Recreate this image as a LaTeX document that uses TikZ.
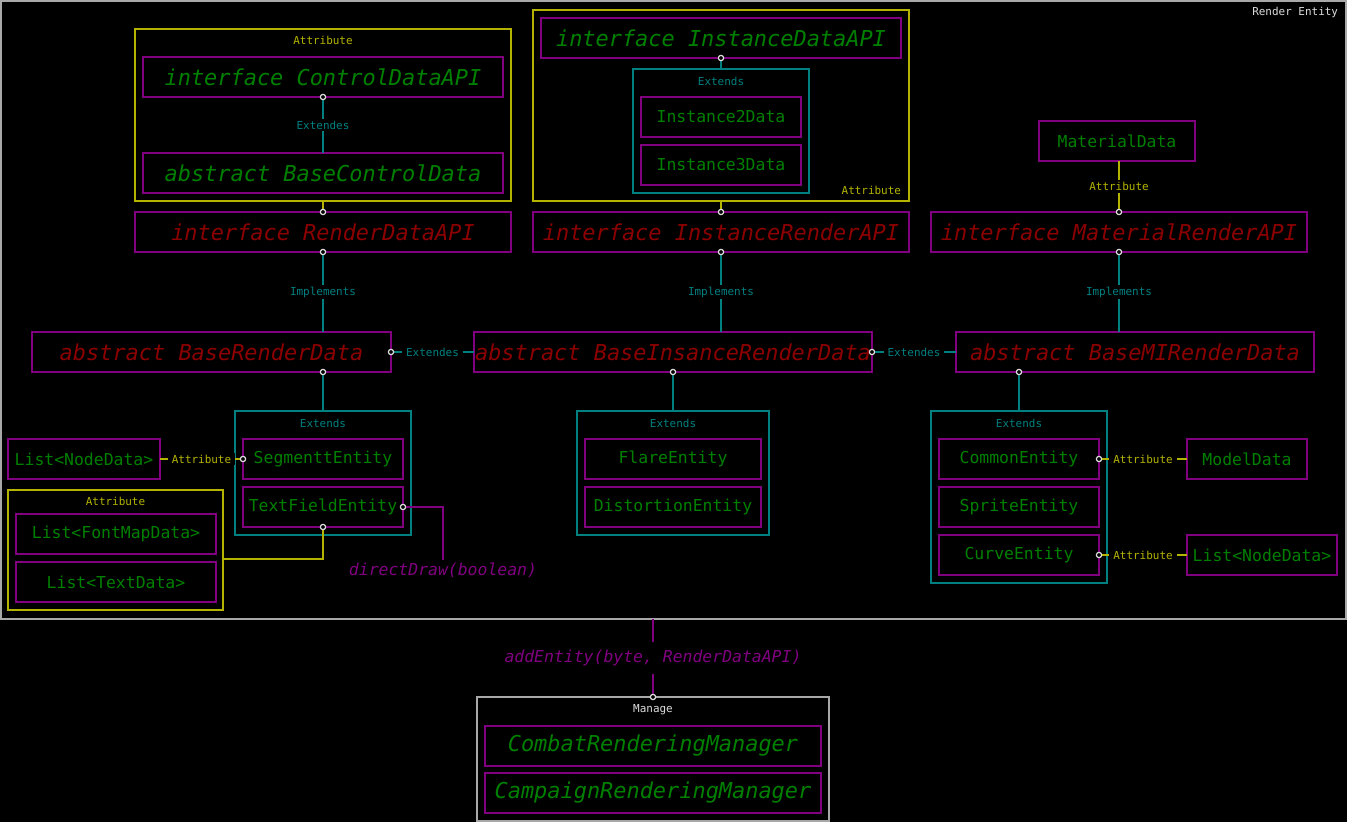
\documentclass[tikz,border=0pt]{standalone}
\usepackage{fontspec}
\setmonofont{DejaVu Sans Mono}
\usetikzlibrary{arrows.meta, positioning}

\definecolor{boxpurple}{HTML}{800080}
\definecolor{txtgreen}{HTML}{008000}
\definecolor{txtred}{HTML}{8B0000}
\definecolor{linkteal}{HTML}{008080}
\definecolor{linkyellow}{HTML}{B4B400}
\definecolor{framegray}{HTML}{A8A8A8}
\definecolor{portgray}{HTML}{DDDDDD}

\begin{document}
\begin{tikzpicture}[x=1bp, y=-1bp,
        every node/.style={inner sep=0pt, outer sep=0pt},
        cls/.style={rectangle, draw=boxpurple, line width=1.5pt, minimum height=40bp, text=txtgreen, font=\ttfamily\fontsize{16.5}{18}\selectfont},
        apibox/.style={cls, font=\ttfamily\itshape\fontsize{22}{24}\selectfont},
        corebox/.style={apibox, text=txtred},
        grpbox/.style={rectangle, line width=1.5pt, draw},
        attrgrp/.style={grpbox, draw=linkyellow},
        extgrp/.style={grpbox, draw=linkteal},
        lbl/.style={font=\ttfamily\fontsize{11}{13}\selectfont, inner xsep=4pt, inner ysep=2pt},
        linklbl/.style={lbl, midway, fill=black},
        method/.style={font=\ttfamily\itshape\fontsize{16.5}{18}\selectfont, text=boxpurple, inner sep=3pt},
        link/.style={line width=1.8pt},
        teallink/.style={link, draw=linkteal},
        yellowlink/.style={link, draw=linkyellow},
        purplelink/.style={link, draw=boxpurple},
        dot start/.style={{Circle[length=6.5pt, fill=black, color=portgray, line width=1.2pt]}-, shorten <=-3.25pt},
        dot end/.style={-{Circle[length=6.5pt, fill=black, color=portgray, line width=1.2pt]}, shorten >=-3.25pt}
    ]
    \fill[black] (0,0) rectangle (1347,822);
    \useasboundingbox (0,0) rectangle (1347,822);

    % --- 1. outer frame ---
    \node[grpbox, draw=framegray, minimum width=1345bp, minimum height=618bp] (frame) at (673.5,310) {};
    \node[lbl, text=portgray, below left=4pt and 4pt of frame.north east] (framelbl) {Render Entity};

    % --- 2. left column ---
    \node[attrgrp, minimum width=376bp, minimum height=172bp] (attrA) at (323,115) {};
    \node[lbl, text=linkyellow, below=5pt of attrA.north] (attrAlbl) {Attribute};
    \node[apibox, minimum width=360bp] (cda) at (323,77) {interface ControlDataAPI};
    \node[apibox, minimum width=360bp] (bcd) at (323,173) {abstract BaseControlData};
    \node[corebox, minimum width=376bp] (rda) at (323,232) {interface RenderDataAPI};
    \node[corebox, minimum width=359bp] (brd) at (211.5,352) {abstract BaseRenderData};

    \node[extgrp, minimum width=176bp, minimum height=124bp] (extA) at (323,473) {};
    \node[lbl, text=linkteal, below=6pt of extA.north] (extAlbl) {Extends};
    \node[cls, minimum width=160bp] (seg) at (323,459) {SegmenttEntity};
    \node[cls, minimum width=160bp] (tfe) at (323,507) {TextFieldEntity};
    \node[cls, minimum width=152bp] (lnd) at (84,459) {List<NodeData>};

    \node[attrgrp, minimum width=215bp, minimum height=120bp] (attrB) at (115.5,550) {};
    \node[lbl, text=linkyellow, below=5pt of attrB.north] (attrBlbl) {Attribute};
    \node[cls, minimum width=200bp] (fmd) at (116,534) {List<FontMapData>};
    \node[cls, minimum width=200bp] (ltd) at (116,582) {List<TextData>};
    \node[method] (dd) at (443,570) {directDraw(boolean)};

    % --- 3. middle column ---
    \node[attrgrp, minimum width=376bp, minimum height=191bp] (attrC) at (721,105.5) {};
    \node[lbl, text=linkyellow, above left=4pt and 4pt of attrC.south east] (attrClbl) {Attribute};
    \node[apibox, minimum width=360bp] (ida) at (721,38) {interface InstanceDataAPI};
    \node[extgrp, minimum width=176bp, minimum height=124bp] (extB) at (721,131) {};
    \node[lbl, text=linkteal, below=6pt of extB.north] (extBlbl) {Extends};
    \node[cls, minimum width=160bp] (i2d) at (721,117) {Instance2Data};
    \node[cls, minimum width=160bp] (i3d) at (721,165) {Instance3Data};
    \node[corebox, minimum width=376bp] (ira) at (721,232) {interface InstanceRenderAPI};
    \node[corebox, minimum width=398bp] (bird) at (673,352) {abstract BaseInsanceRenderData};

    \node[extgrp, minimum width=192bp, minimum height=124bp] (extC) at (673,473) {};
    \node[lbl, text=linkteal, below=6pt of extC.north] (extClbl) {Extends};
    \node[cls, minimum width=176bp] (fla) at (673,459) {FlareEntity};
    \node[cls, minimum width=176bp] (dis) at (673,507) {DistortionEntity};

    % --- 4. right column ---
    \node[cls, minimum width=156bp] (mat) at (1117,141) {MaterialData};
    \node[corebox, minimum width=376bp] (mra) at (1119,232) {interface MaterialRenderAPI};
    \node[corebox, minimum width=358bp] (bmi) at (1135,352) {abstract BaseMIRenderData};

    \node[extgrp, minimum width=176bp, minimum height=172bp] (extD) at (1019,497) {};
    \node[lbl, text=linkteal, below=6pt of extD.north] (extDlbl) {Extends};
    \node[cls, minimum width=160bp] (com) at (1019,459) {CommonEntity};
    \node[cls, minimum width=160bp] (spr) at (1019,507) {SpriteEntity};
    \node[cls, minimum width=160bp] (cur) at (1019,555) {CurveEntity};
    \node[cls, minimum width=120bp] (mdl) at (1247,459) {ModelData};
    \node[cls, minimum width=150bp] (lnd2) at (1262,555) {List<NodeData>};

    % --- 5. managers ---
    \node[grpbox, draw=framegray, minimum width=352bp, minimum height=124bp] (mgr) at (653,759) {};
    \node[lbl, text=portgray, below=6pt of mgr.north] (mgrlbl) {Manage};
    \node[apibox, minimum width=336bp] (cbt) at (653,746) {CombatRenderingManager};
    \node[apibox, minimum width=336bp] (cpg) at (653,793) {CampaignRenderingManager};

    % --- 6. links ---
    \draw[teallink, dot start] (cda.south) -- (bcd.north) node[linklbl, text=linkteal] {Extendes};
    \draw[yellowlink, dot end] (attrA.south) -- (rda.north);
    \draw[teallink, dot start] (rda.south) -- (rda.south |- brd.north) node[linklbl, text=linkteal] {Implements};
    \draw[teallink, dot start] (brd.east) -- (bird.west) node[linklbl, text=linkteal] {Extendes};
    \draw[teallink, dot start] (extA.north |- brd.south) -- (extA.north);
    \draw[yellowlink, dot end] (lnd.east) -- (seg.west) node[linklbl, text=linkyellow] {Attribute};
    \draw[yellowlink, dot start] (tfe.south) |- ([yshift=-9bp]attrB.east);
    \draw[purplelink, dot start] (tfe.east) -| (dd.north);

    \draw[teallink, dot start] (ida.south) -- (extB.north);
    \draw[yellowlink, dot end] (attrC.south) -- (ira.north);
    \draw[teallink, dot start] (ira.south) -- (ira.south |- bird.north) node[linklbl, text=linkteal] {Implements};
    \draw[teallink, dot start] (bird.east) -- (bmi.west) node[linklbl, text=linkteal] {Extendes};
    \draw[teallink, dot start] (bird.south) -- (extC.north);

    \draw[yellowlink, dot end] (mra.north |- mat.south) -- (mra.north) node[linklbl, text=linkyellow] {Attribute};
    \draw[teallink, dot start] (mra.south) -- (mra.south |- bmi.north) node[linklbl, text=linkteal] {Implements};
    \draw[teallink, dot start] (extD.north |- bmi.south) -- (extD.north);
    \draw[yellowlink, dot start] (com.east) -- (mdl.west) node[linklbl, text=linkyellow] {Attribute};
    \draw[yellowlink, dot start] (cur.east) -- (lnd2.west) node[linklbl, text=linkyellow] {Attribute};

    \draw[purplelink, dot end] (mgr.north |- frame.south) -- (mgr.north) node[method, midway, fill=black, inner ysep=8pt] {addEntity(byte, RenderDataAPI)};
\end{tikzpicture}
\end{document}
